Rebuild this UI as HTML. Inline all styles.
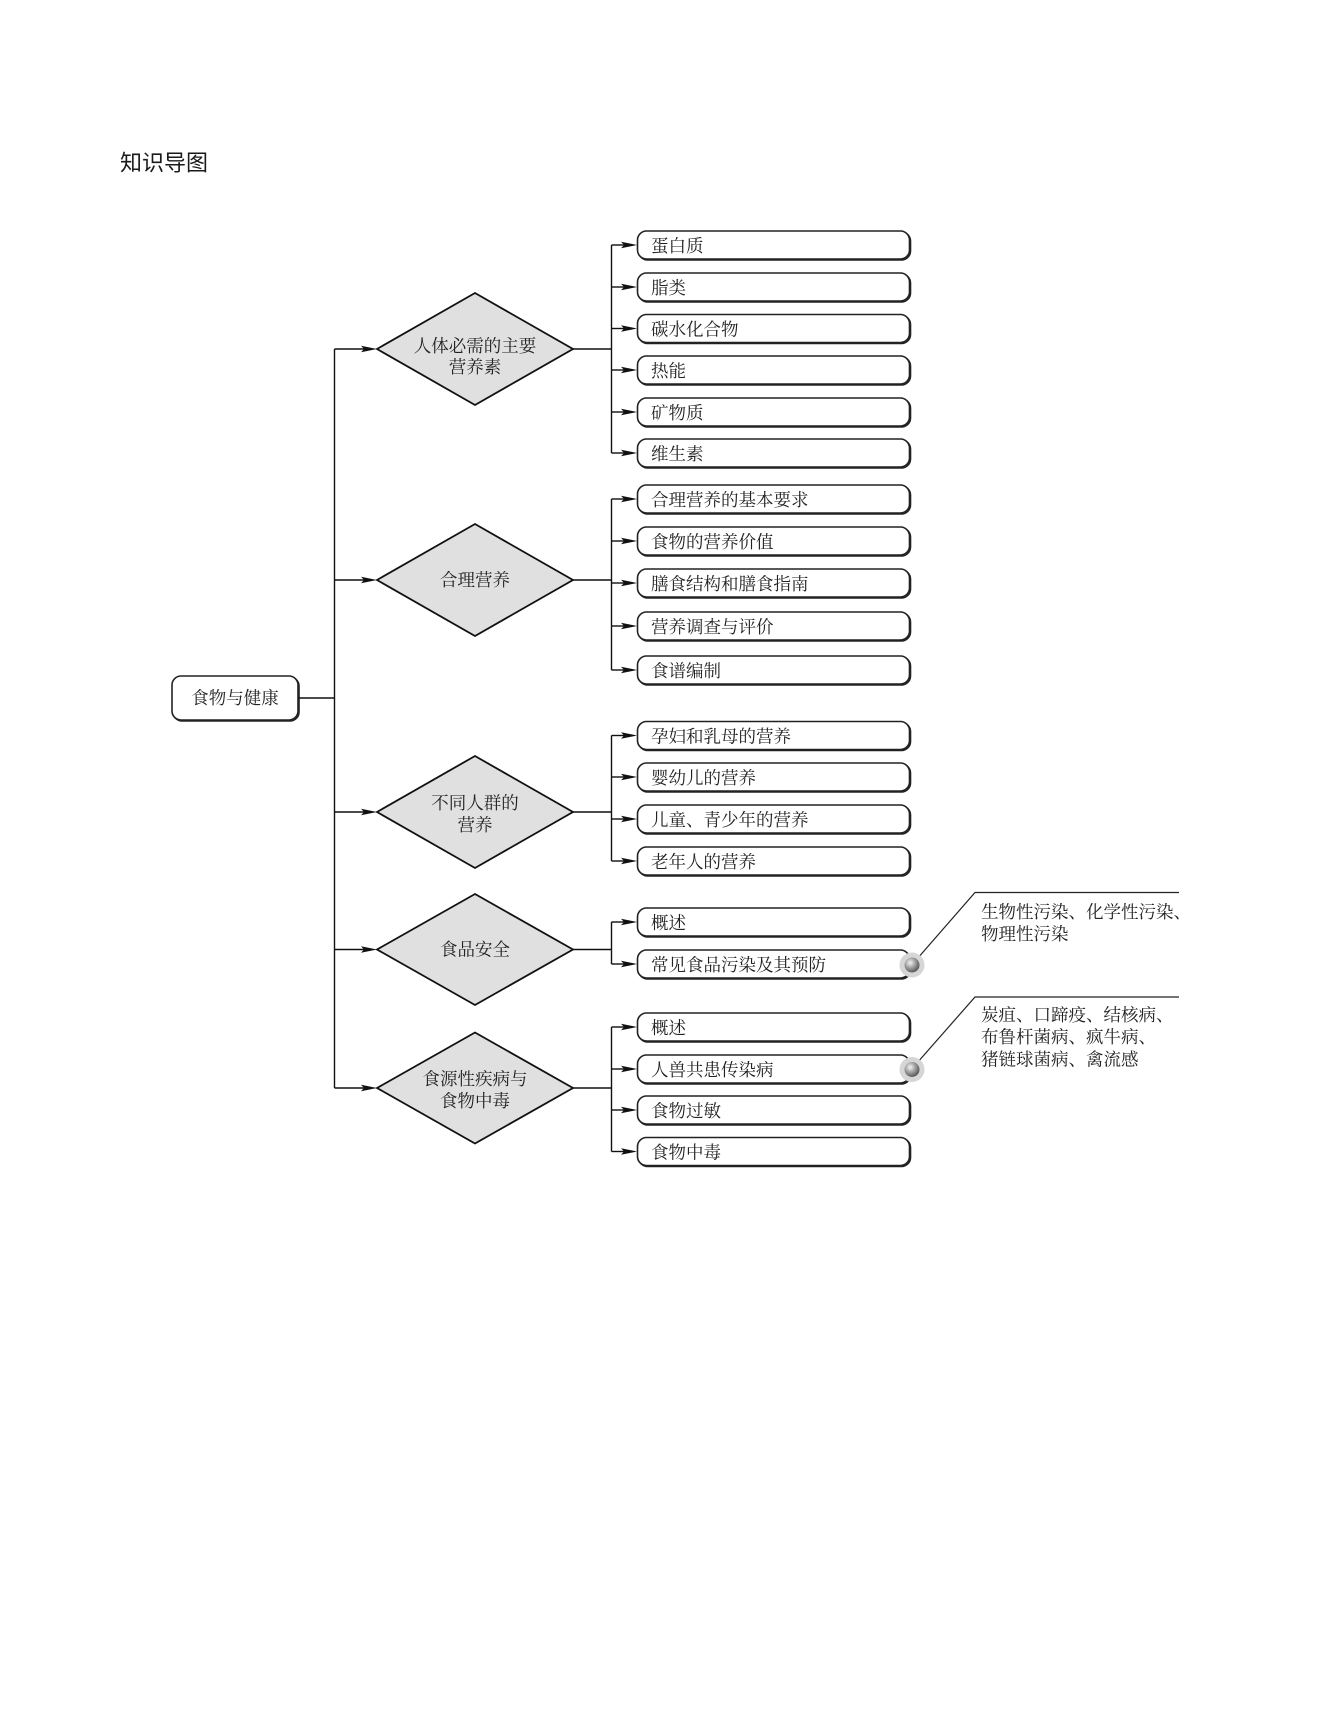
<!DOCTYPE html>
<html><head><meta charset="utf-8"><style>
html,body{margin:0;padding:0;background:#fff;}
svg{display:block;}
.t{font-family:"Liberation Serif","Noto Serif CJK SC",serif;font-size:17.5px;fill:#222;}
.h{font-family:"Liberation Sans","Noto Sans CJK SC",sans-serif;font-size:22px;fill:#1a1a1a;}
</style></head><body>
<svg width="1322" height="1732" viewBox="0 0 1322 1732" xmlns="http://www.w3.org/2000/svg">
<defs>
<radialGradient id="g" cx="0.38" cy="0.35" r="0.65">
<stop offset="0" stop-color="#f4f4f4"/><stop offset="0.5" stop-color="#a4a4a4"/><stop offset="1" stop-color="#5a5a5a"/>
</radialGradient>
<g id="ah"><polygon points="-16,-3.2 0,0 -16,3.2 -13,0" fill="#111"/></g>
</defs>
<rect width="1322" height="1732" fill="#fff"/>
<text class="h" x="120" y="163" dominant-baseline="central">知识导图</text>

<!-- root -->
<rect x="173" y="677" width="126" height="44" rx="9" fill="none" stroke="#222" stroke-width="1.6"/>
<rect x="172" y="676" width="126" height="44" rx="9" fill="#fff" stroke="#222" stroke-width="1.6"/>
<text class="t" x="235" y="698" text-anchor="middle" dominant-baseline="central">食物与健康</text>
<g stroke="#111" stroke-width="1.4" fill="none">
<line x1="298" y1="698" x2="334.5" y2="698"/>
<line x1="334.5" y1="349" x2="334.5" y2="1088"/>
<line x1="334.5" y1="349" x2="364" y2="349"/>
<line x1="334.5" y1="580" x2="364" y2="580"/>
<line x1="334.5" y1="812" x2="364" y2="812"/>
<line x1="334.5" y1="949.5" x2="364" y2="949.5"/>
<line x1="334.5" y1="1088" x2="364" y2="1088"/>
<!-- diamond to branch -->
<line x1="573" y1="349" x2="611.5" y2="349"/>
<line x1="573" y1="580" x2="611.5" y2="580"/>
<line x1="573" y1="812" x2="611.5" y2="812"/>
<line x1="573" y1="949.5" x2="611.5" y2="949.5"/>
<line x1="573" y1="1088" x2="611.5" y2="1088"/>
<!-- branches -->
<line x1="611.5" y1="245" x2="611.5" y2="453"/>
<line x1="611.5" y1="499" x2="611.5" y2="670"/>
<line x1="611.5" y1="735.5" x2="611.5" y2="861"/>
<line x1="611.5" y1="922" x2="611.5" y2="964"/>
<line x1="611.5" y1="1027" x2="611.5" y2="1151.5"/>
</g>
<use href="#ah" x="377" y="349"/>
<use href="#ah" x="377" y="580"/>
<use href="#ah" x="377" y="812"/>
<use href="#ah" x="377" y="949.5"/>
<use href="#ah" x="377" y="1088"/>

<!-- diamonds -->
<g fill="#e0e0e0" stroke="#111" stroke-width="1.8">
<polygon points="377,349 475,293 573,349 475,405"/>
<polygon points="377,580 475,524 573,580 475,636"/>
<polygon points="377,812 475,756 573,812 475,868"/>
<polygon points="377,949.5 475,894 573,949.5 475,1005"/>
<polygon points="377,1088 475,1032.5 573,1088 475,1143.5"/>
</g>
<g class="t" text-anchor="middle" dominant-baseline="central">
<text class="t" x="475" y="346" text-anchor="middle" dominant-baseline="central">人体必需的主要</text>
<text class="t" x="475" y="367" text-anchor="middle" dominant-baseline="central">营养素</text>
<text class="t" x="475" y="580" text-anchor="middle" dominant-baseline="central">合理营养</text>
<text class="t" x="475" y="803" text-anchor="middle" dominant-baseline="central">不同人群的</text>
<text class="t" x="475" y="825" text-anchor="middle" dominant-baseline="central">营养</text>
<text class="t" x="475" y="949.5" text-anchor="middle" dominant-baseline="central">食品安全</text>
<text class="t" x="475" y="1079" text-anchor="middle" dominant-baseline="central">食源性疾病与</text>
<text class="t" x="475" y="1101" text-anchor="middle" dominant-baseline="central">食物中毒</text>
</g>

<!-- leaf boxes -->
<g id="leaves">
</g>
<g stroke="#111" stroke-width="1.4">
<line x1="611.5" y1="245" x2="624" y2="245"/><line x1="611.5" y1="287" x2="624" y2="287"/><line x1="611.5" y1="328.5" x2="624" y2="328.5"/><line x1="611.5" y1="370" x2="624" y2="370"/><line x1="611.5" y1="412" x2="624" y2="412"/><line x1="611.5" y1="453" x2="624" y2="453"/>
<line x1="611.5" y1="499" x2="624" y2="499"/><line x1="611.5" y1="541" x2="624" y2="541"/><line x1="611.5" y1="583" x2="624" y2="583"/><line x1="611.5" y1="626" x2="624" y2="626"/><line x1="611.5" y1="670" x2="624" y2="670"/>
<line x1="611.5" y1="735.5" x2="624" y2="735.5"/><line x1="611.5" y1="777" x2="624" y2="777"/><line x1="611.5" y1="819" x2="624" y2="819"/><line x1="611.5" y1="861" x2="624" y2="861"/>
<line x1="611.5" y1="922" x2="624" y2="922"/><line x1="611.5" y1="964" x2="624" y2="964"/>
<line x1="611.5" y1="1027" x2="624" y2="1027"/><line x1="611.5" y1="1069" x2="624" y2="1069"/><line x1="611.5" y1="1110" x2="624" y2="1110"/><line x1="611.5" y1="1151.5" x2="624" y2="1151.5"/>
</g>

<g>
<!-- helper pattern: shadow rect, main rect, arrow, text -->
<rect x="638.5" y="232" width="272" height="28" rx="9" fill="none" stroke="#222" stroke-width="1.6"/><rect x="637.5" y="231" width="272" height="28" rx="9" fill="#fff" stroke="#222" stroke-width="1.6"/><use href="#ah" x="637" y="245"/><text class="t" x="651" y="246" dominant-baseline="central">蛋白质</text>
<rect x="638.5" y="274" width="272" height="28" rx="9" fill="none" stroke="#222" stroke-width="1.6"/><rect x="637.5" y="273" width="272" height="28" rx="9" fill="#fff" stroke="#222" stroke-width="1.6"/><use href="#ah" x="637" y="287"/><text class="t" x="651" y="288" dominant-baseline="central">脂类</text>
<rect x="638.5" y="315.5" width="272" height="28" rx="9" fill="none" stroke="#222" stroke-width="1.6"/><rect x="637.5" y="314.5" width="272" height="28" rx="9" fill="#fff" stroke="#222" stroke-width="1.6"/><use href="#ah" x="637" y="328.5"/><text class="t" x="651" y="329.5" dominant-baseline="central">碳水化合物</text>
<rect x="638.5" y="357" width="272" height="28" rx="9" fill="none" stroke="#222" stroke-width="1.6"/><rect x="637.5" y="356" width="272" height="28" rx="9" fill="#fff" stroke="#222" stroke-width="1.6"/><use href="#ah" x="637" y="370"/><text class="t" x="651" y="371" dominant-baseline="central">热能</text>
<rect x="638.5" y="399" width="272" height="28" rx="9" fill="none" stroke="#222" stroke-width="1.6"/><rect x="637.5" y="398" width="272" height="28" rx="9" fill="#fff" stroke="#222" stroke-width="1.6"/><use href="#ah" x="637" y="412"/><text class="t" x="651" y="413" dominant-baseline="central">矿物质</text>
<rect x="638.5" y="440" width="272" height="28" rx="9" fill="none" stroke="#222" stroke-width="1.6"/><rect x="637.5" y="439" width="272" height="28" rx="9" fill="#fff" stroke="#222" stroke-width="1.6"/><use href="#ah" x="637" y="453"/><text class="t" x="651" y="454" dominant-baseline="central">维生素</text>

<rect x="638.5" y="486" width="272" height="28" rx="9" fill="none" stroke="#222" stroke-width="1.6"/><rect x="637.5" y="485" width="272" height="28" rx="9" fill="#fff" stroke="#222" stroke-width="1.6"/><use href="#ah" x="637" y="499"/><text class="t" x="651" y="500" dominant-baseline="central">合理营养的基本要求</text>
<rect x="638.5" y="528" width="272" height="28" rx="9" fill="none" stroke="#222" stroke-width="1.6"/><rect x="637.5" y="527" width="272" height="28" rx="9" fill="#fff" stroke="#222" stroke-width="1.6"/><use href="#ah" x="637" y="541"/><text class="t" x="651" y="542" dominant-baseline="central">食物的营养价值</text>
<rect x="638.5" y="570" width="272" height="28" rx="9" fill="none" stroke="#222" stroke-width="1.6"/><rect x="637.5" y="569" width="272" height="28" rx="9" fill="#fff" stroke="#222" stroke-width="1.6"/><use href="#ah" x="637" y="583"/><text class="t" x="651" y="584" dominant-baseline="central">膳食结构和膳食指南</text>
<rect x="638.5" y="613" width="272" height="28" rx="9" fill="none" stroke="#222" stroke-width="1.6"/><rect x="637.5" y="612" width="272" height="28" rx="9" fill="#fff" stroke="#222" stroke-width="1.6"/><use href="#ah" x="637" y="626"/><text class="t" x="651" y="627" dominant-baseline="central">营养调查与评价</text>
<rect x="638.5" y="657" width="272" height="28" rx="9" fill="none" stroke="#222" stroke-width="1.6"/><rect x="637.5" y="656" width="272" height="28" rx="9" fill="#fff" stroke="#222" stroke-width="1.6"/><use href="#ah" x="637" y="670"/><text class="t" x="651" y="671" dominant-baseline="central">食谱编制</text>

<rect x="638.5" y="722.5" width="272" height="28" rx="9" fill="none" stroke="#222" stroke-width="1.6"/><rect x="637.5" y="721.5" width="272" height="28" rx="9" fill="#fff" stroke="#222" stroke-width="1.6"/><use href="#ah" x="637" y="735.5"/><text class="t" x="651" y="736.5" dominant-baseline="central">孕妇和乳母的营养</text>
<rect x="638.5" y="764" width="272" height="28" rx="9" fill="none" stroke="#222" stroke-width="1.6"/><rect x="637.5" y="763" width="272" height="28" rx="9" fill="#fff" stroke="#222" stroke-width="1.6"/><use href="#ah" x="637" y="777"/><text class="t" x="651" y="778" dominant-baseline="central">婴幼儿的营养</text>
<rect x="638.5" y="806" width="272" height="28" rx="9" fill="none" stroke="#222" stroke-width="1.6"/><rect x="637.5" y="805" width="272" height="28" rx="9" fill="#fff" stroke="#222" stroke-width="1.6"/><use href="#ah" x="637" y="819"/><text class="t" x="651" y="820" dominant-baseline="central">儿童、青少年的营养</text>
<rect x="638.5" y="848" width="272" height="28" rx="9" fill="none" stroke="#222" stroke-width="1.6"/><rect x="637.5" y="847" width="272" height="28" rx="9" fill="#fff" stroke="#222" stroke-width="1.6"/><use href="#ah" x="637" y="861"/><text class="t" x="651" y="862" dominant-baseline="central">老年人的营养</text>

<rect x="638.5" y="909" width="272" height="28" rx="9" fill="none" stroke="#222" stroke-width="1.6"/><rect x="637.5" y="908" width="272" height="28" rx="9" fill="#fff" stroke="#222" stroke-width="1.6"/><use href="#ah" x="637" y="922"/><text class="t" x="651" y="923" dominant-baseline="central">概述</text>
<rect x="638.5" y="951" width="272" height="28" rx="9" fill="none" stroke="#222" stroke-width="1.6"/><rect x="637.5" y="950" width="272" height="28" rx="9" fill="#fff" stroke="#222" stroke-width="1.6"/><use href="#ah" x="637" y="964"/><text class="t" x="651" y="965" dominant-baseline="central">常见食品污染及其预防</text>

<rect x="638.5" y="1014" width="272" height="28" rx="9" fill="none" stroke="#222" stroke-width="1.6"/><rect x="637.5" y="1013" width="272" height="28" rx="9" fill="#fff" stroke="#222" stroke-width="1.6"/><use href="#ah" x="637" y="1027"/><text class="t" x="651" y="1028" dominant-baseline="central">概述</text>
<rect x="638.5" y="1056" width="272" height="28" rx="9" fill="none" stroke="#222" stroke-width="1.6"/><rect x="637.5" y="1055" width="272" height="28" rx="9" fill="#fff" stroke="#222" stroke-width="1.6"/><use href="#ah" x="637" y="1069"/><text class="t" x="651" y="1070" dominant-baseline="central">人兽共患传染病</text>
<rect x="638.5" y="1097" width="272" height="28" rx="9" fill="none" stroke="#222" stroke-width="1.6"/><rect x="637.5" y="1096" width="272" height="28" rx="9" fill="#fff" stroke="#222" stroke-width="1.6"/><use href="#ah" x="637" y="1110"/><text class="t" x="651" y="1111" dominant-baseline="central">食物过敏</text>
<rect x="638.5" y="1138.5" width="272" height="28" rx="9" fill="none" stroke="#222" stroke-width="1.6"/><rect x="637.5" y="1137.5" width="272" height="28" rx="9" fill="#fff" stroke="#222" stroke-width="1.6"/><use href="#ah" x="637" y="1151.5"/><text class="t" x="651" y="1152.5" dominant-baseline="central">食物中毒</text>
</g>

<!-- callouts -->
<g stroke="#222" stroke-width="1.2" fill="none">
<polyline points="917,959 975,892.5 1179,892.5"/>
<polyline points="917,1063 975,997 1179,997"/>
</g>
<circle cx="912" cy="965" r="12.5" fill="#d6d6d6"/>
<circle cx="912" cy="965" r="7.5" fill="url(#g)"/>
<circle cx="912" cy="1069.5" r="12.5" fill="#d6d6d6"/>
<circle cx="912" cy="1069.5" r="7.5" fill="url(#g)"/>
<text class="t" x="981" y="912" dominant-baseline="central">生物性污染、化学性污染、</text>
<text class="t" x="981" y="934" dominant-baseline="central">物理性污染</text>
<text class="t" x="981" y="1015" dominant-baseline="central">炭疽、口蹄疫、结核病、</text>
<text class="t" x="981" y="1037" dominant-baseline="central">布鲁杆菌病、疯牛病、</text>
<text class="t" x="981" y="1059.5" dominant-baseline="central">猪链球菌病、禽流感</text>
</svg>
</body></html>
